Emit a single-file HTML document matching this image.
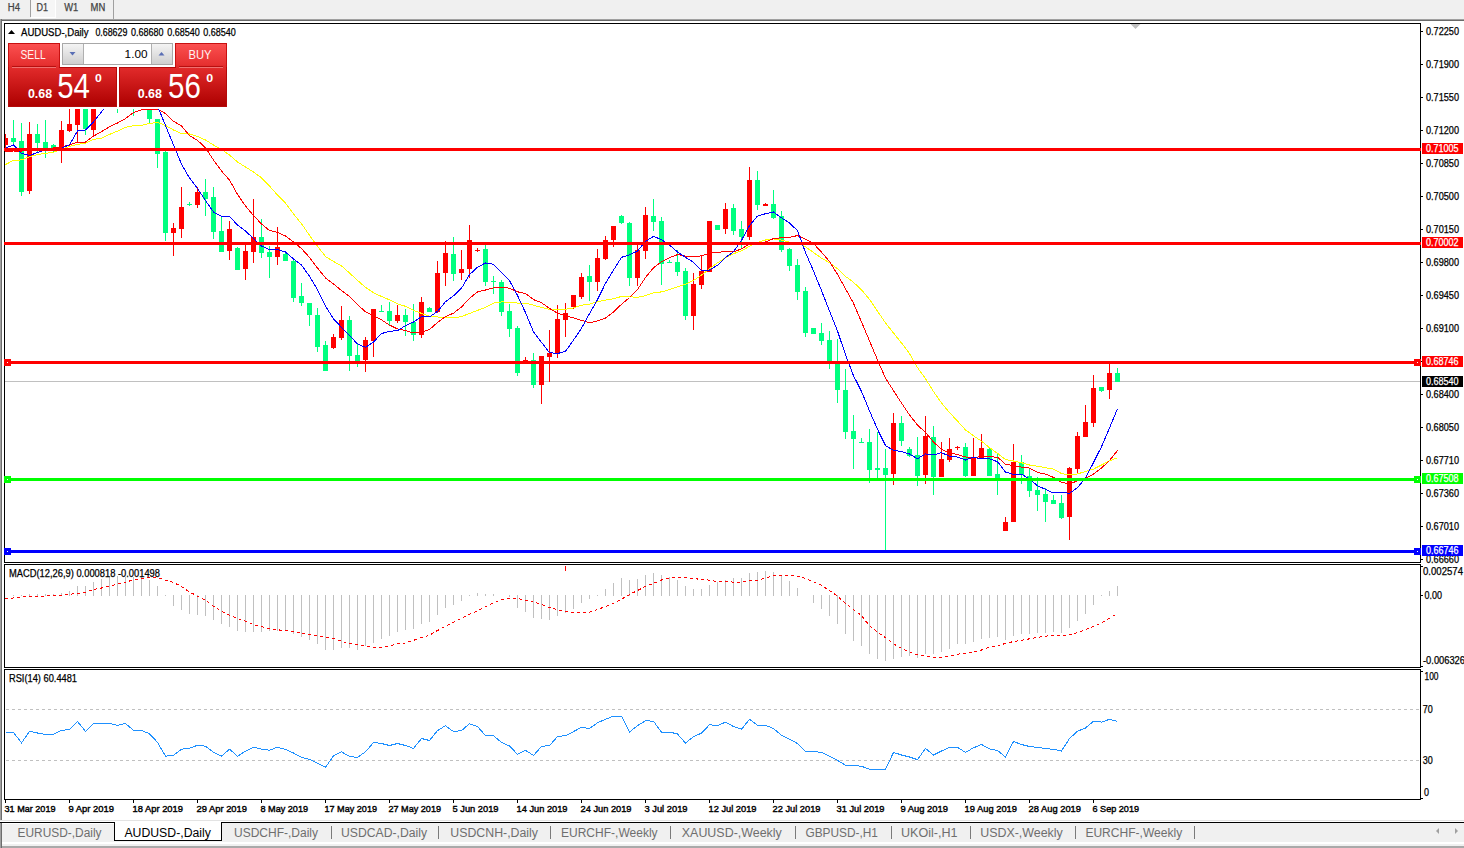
<!DOCTYPE html>
<html><head><meta charset="utf-8">
<style>
html,body{margin:0;padding:0;width:1464px;height:848px;overflow:hidden;background:#fff;}
svg{position:absolute;left:0;top:0;}
text{font-family:"Liberation Sans", sans-serif;}
</style></head><body>
<svg width="1464" height="848" viewBox="0 0 1464 848">
<rect x="0" y="0" width="1464" height="848" fill="#ffffff"/>
<g shape-rendering="crispEdges">
<rect x="0" y="0" width="1464" height="19" fill="#f0f0f0"/>
<rect x="31" y="0" width="24" height="17" fill="#f6f6f6"/><rect x="55" y="0" width="1" height="18" fill="#fff"/><rect x="31" y="17" width="25" height="1" fill="#fff"/>
<rect x="30" y="0" width="1" height="17" fill="#a0a0a0"/>
<rect x="113" y="0" width="1" height="19" fill="#a0a0a0"/>
<rect x="0" y="19" width="1464" height="1" fill="#a0a0a0"/>
<rect x="0" y="20" width="1464" height="1" fill="#696969"/>
<rect x="0" y="19" width="1" height="801" fill="#a0a0a0"/>
<rect x="1" y="19" width="1" height="801" fill="#6d6d6d"/>
<rect x="4" y="23" width="1417" height="1" fill="#000"/>
<rect x="4" y="23" width="1" height="540" fill="#000"/>
<rect x="1420" y="23" width="1" height="540" fill="#000"/>
<rect x="4" y="562" width="1417" height="1" fill="#000"/>
<rect x="4" y="564" width="1417" height="1" fill="#000"/>
<rect x="4" y="564" width="1" height="104" fill="#000"/>
<rect x="1420" y="564" width="1" height="104" fill="#000"/>
<rect x="4" y="667" width="1417" height="1" fill="#000"/>
<rect x="4" y="669" width="1417" height="1" fill="#000"/>
<rect x="4" y="669" width="1" height="131" fill="#000"/>
<rect x="1420" y="669" width="1" height="131" fill="#000"/>
<rect x="4" y="799" width="1417" height="1" fill="#000"/>
</g>
<g shape-rendering="crispEdges">
<rect x="5" y="381" width="1415" height="1" fill="#c0c0c0"/>
<rect x="5" y="134" width="1" height="18" fill="#ff0000"/>
<rect x="5" y="138" width="3" height="7" fill="#ff0000"/>
<rect x="13" y="120" width="1" height="26" fill="#00ff7f"/>
<rect x="11" y="138" width="5" height="4" fill="#00ff7f"/>
<rect x="21" y="123" width="1" height="73" fill="#00ff7f"/>
<rect x="19" y="141" width="5" height="51" fill="#00ff7f"/>
<rect x="29" y="122" width="1" height="72" fill="#ff0000"/>
<rect x="27" y="134" width="5" height="57" fill="#ff0000"/>
<rect x="37" y="124" width="1" height="28" fill="#00ff7f"/>
<rect x="35" y="134" width="5" height="9" fill="#00ff7f"/>
<rect x="45" y="120" width="1" height="38" fill="#00ff7f"/>
<rect x="43" y="142" width="5" height="8" fill="#00ff7f"/>
<rect x="53" y="144" width="1" height="8" fill="#00ff7f"/>
<rect x="51" y="145" width="5" height="6" fill="#00ff7f"/>
<rect x="61" y="121" width="1" height="42" fill="#ff0000"/>
<rect x="59" y="130" width="5" height="20" fill="#ff0000"/>
<rect x="69" y="100" width="1" height="32" fill="#ff0000"/>
<rect x="67" y="124" width="5" height="7" fill="#ff0000"/>
<rect x="77" y="100" width="1" height="42" fill="#ff0000"/>
<rect x="75" y="100" width="5" height="25" fill="#ff0000"/>
<rect x="85" y="100" width="1" height="35" fill="#00ff7f"/>
<rect x="83" y="100" width="5" height="29" fill="#00ff7f"/>
<rect x="93" y="100" width="1" height="36" fill="#ff0000"/>
<rect x="91" y="100" width="5" height="30" fill="#ff0000"/>
<rect x="101" y="70" width="1" height="30" fill="#00ff7f"/>
<rect x="99" y="75" width="5" height="20" fill="#00ff7f"/>
<rect x="109" y="62" width="1" height="38" fill="#ff0000"/>
<rect x="107" y="70" width="5" height="25" fill="#ff0000"/>
<rect x="117" y="60" width="1" height="53" fill="#00ff7f"/>
<rect x="115" y="65" width="5" height="35" fill="#00ff7f"/>
<rect x="125" y="55" width="1" height="45" fill="#ff0000"/>
<rect x="123" y="60" width="5" height="30" fill="#ff0000"/>
<rect x="133" y="60" width="1" height="56" fill="#00ff7f"/>
<rect x="131" y="65" width="5" height="35" fill="#00ff7f"/>
<rect x="141" y="60" width="1" height="40" fill="#ff0000"/>
<rect x="139" y="70" width="5" height="20" fill="#ff0000"/>
<rect x="149" y="80" width="1" height="43" fill="#00ff7f"/>
<rect x="147" y="90" width="5" height="29" fill="#00ff7f"/>
<rect x="157" y="119" width="1" height="49" fill="#00ff7f"/>
<rect x="155" y="119" width="5" height="35" fill="#00ff7f"/>
<rect x="165" y="151" width="1" height="90" fill="#00ff7f"/>
<rect x="163" y="152" width="5" height="81" fill="#00ff7f"/>
<rect x="173" y="223" width="1" height="33" fill="#ff0000"/>
<rect x="171" y="228" width="5" height="5" fill="#ff0000"/>
<rect x="181" y="187" width="1" height="51" fill="#ff0000"/>
<rect x="179" y="207" width="5" height="22" fill="#ff0000"/>
<rect x="189" y="202" width="1" height="4" fill="#00ff7f"/>
<rect x="187" y="204" width="5" height="1" fill="#00ff7f"/>
<rect x="197" y="187" width="1" height="21" fill="#ff0000"/>
<rect x="195" y="192" width="5" height="13" fill="#ff0000"/>
<rect x="205" y="179" width="1" height="37" fill="#00ff7f"/>
<rect x="203" y="192" width="5" height="7" fill="#00ff7f"/>
<rect x="213" y="187" width="1" height="52" fill="#00ff7f"/>
<rect x="211" y="197" width="5" height="35" fill="#00ff7f"/>
<rect x="221" y="217" width="1" height="35" fill="#00ff7f"/>
<rect x="219" y="231" width="5" height="21" fill="#00ff7f"/>
<rect x="229" y="221" width="1" height="39" fill="#ff0000"/>
<rect x="227" y="229" width="5" height="22" fill="#ff0000"/>
<rect x="237" y="247" width="1" height="23" fill="#00ff7f"/>
<rect x="235" y="248" width="5" height="22" fill="#00ff7f"/>
<rect x="245" y="245" width="1" height="35" fill="#ff0000"/>
<rect x="243" y="251" width="5" height="18" fill="#ff0000"/>
<rect x="253" y="199" width="1" height="64" fill="#ff0000"/>
<rect x="251" y="237" width="5" height="15" fill="#ff0000"/>
<rect x="261" y="219" width="1" height="39" fill="#00ff7f"/>
<rect x="259" y="237" width="5" height="16" fill="#00ff7f"/>
<rect x="269" y="246" width="1" height="32" fill="#00ff7f"/>
<rect x="267" y="252" width="5" height="5" fill="#00ff7f"/>
<rect x="277" y="227" width="1" height="38" fill="#ff0000"/>
<rect x="275" y="247" width="5" height="10" fill="#ff0000"/>
<rect x="285" y="253" width="1" height="8" fill="#00ff7f"/>
<rect x="283" y="254" width="5" height="7" fill="#00ff7f"/>
<rect x="293" y="260" width="1" height="42" fill="#00ff7f"/>
<rect x="291" y="261" width="5" height="37" fill="#00ff7f"/>
<rect x="301" y="283" width="1" height="23" fill="#00ff7f"/>
<rect x="299" y="296" width="5" height="7" fill="#00ff7f"/>
<rect x="309" y="303" width="1" height="23" fill="#00ff7f"/>
<rect x="307" y="303" width="5" height="12" fill="#00ff7f"/>
<rect x="317" y="308" width="1" height="44" fill="#00ff7f"/>
<rect x="315" y="315" width="5" height="32" fill="#00ff7f"/>
<rect x="325" y="341" width="1" height="30" fill="#00ff7f"/>
<rect x="323" y="345" width="5" height="26" fill="#00ff7f"/>
<rect x="333" y="334" width="1" height="15" fill="#ff0000"/>
<rect x="331" y="337" width="5" height="11" fill="#ff0000"/>
<rect x="341" y="306" width="1" height="34" fill="#ff0000"/>
<rect x="339" y="320" width="5" height="18" fill="#ff0000"/>
<rect x="349" y="316" width="1" height="55" fill="#00ff7f"/>
<rect x="347" y="320" width="5" height="36" fill="#00ff7f"/>
<rect x="357" y="343" width="1" height="24" fill="#00ff7f"/>
<rect x="355" y="355" width="5" height="6" fill="#00ff7f"/>
<rect x="365" y="337" width="1" height="35" fill="#ff0000"/>
<rect x="363" y="340" width="5" height="20" fill="#ff0000"/>
<rect x="373" y="309" width="1" height="48" fill="#ff0000"/>
<rect x="371" y="309" width="5" height="32" fill="#ff0000"/>
<rect x="381" y="305" width="1" height="7" fill="#00ff7f"/>
<rect x="379" y="311" width="5" height="1" fill="#00ff7f"/>
<rect x="389" y="302" width="1" height="24" fill="#00ff7f"/>
<rect x="387" y="311" width="5" height="10" fill="#00ff7f"/>
<rect x="397" y="305" width="1" height="18" fill="#ff0000"/>
<rect x="395" y="315" width="5" height="6" fill="#ff0000"/>
<rect x="405" y="309" width="1" height="27" fill="#00ff7f"/>
<rect x="403" y="315" width="5" height="7" fill="#00ff7f"/>
<rect x="413" y="304" width="1" height="37" fill="#00ff7f"/>
<rect x="411" y="322" width="5" height="13" fill="#00ff7f"/>
<rect x="421" y="297" width="1" height="41" fill="#ff0000"/>
<rect x="419" y="302" width="5" height="33" fill="#ff0000"/>
<rect x="429" y="307" width="1" height="5" fill="#00ff7f"/>
<rect x="427" y="308" width="5" height="4" fill="#00ff7f"/>
<rect x="437" y="261" width="1" height="52" fill="#ff0000"/>
<rect x="435" y="273" width="5" height="39" fill="#ff0000"/>
<rect x="445" y="241" width="1" height="45" fill="#ff0000"/>
<rect x="443" y="253" width="5" height="20" fill="#ff0000"/>
<rect x="453" y="237" width="1" height="44" fill="#00ff7f"/>
<rect x="451" y="254" width="5" height="20" fill="#00ff7f"/>
<rect x="461" y="250" width="1" height="30" fill="#ff0000"/>
<rect x="459" y="269" width="5" height="4" fill="#ff0000"/>
<rect x="469" y="225" width="1" height="53" fill="#ff0000"/>
<rect x="467" y="240" width="5" height="29" fill="#ff0000"/>
<rect x="477" y="248" width="1" height="4" fill="#ff0000"/>
<rect x="475" y="250" width="5" height="1" fill="#ff0000"/>
<rect x="485" y="245" width="1" height="41" fill="#00ff7f"/>
<rect x="483" y="249" width="5" height="33" fill="#00ff7f"/>
<rect x="493" y="276" width="1" height="18" fill="#00ff7f"/>
<rect x="491" y="281" width="5" height="1" fill="#00ff7f"/>
<rect x="501" y="280" width="1" height="36" fill="#00ff7f"/>
<rect x="499" y="282" width="5" height="30" fill="#00ff7f"/>
<rect x="509" y="304" width="1" height="33" fill="#00ff7f"/>
<rect x="507" y="311" width="5" height="18" fill="#00ff7f"/>
<rect x="517" y="326" width="1" height="50" fill="#00ff7f"/>
<rect x="515" y="328" width="5" height="45" fill="#00ff7f"/>
<rect x="525" y="357" width="1" height="4" fill="#ff0000"/>
<rect x="523" y="360" width="5" height="1" fill="#ff0000"/>
<rect x="533" y="353" width="1" height="35" fill="#00ff7f"/>
<rect x="531" y="360" width="5" height="25" fill="#00ff7f"/>
<rect x="541" y="356" width="1" height="48" fill="#ff0000"/>
<rect x="539" y="356" width="5" height="29" fill="#ff0000"/>
<rect x="549" y="330" width="1" height="52" fill="#ff0000"/>
<rect x="547" y="353" width="5" height="4" fill="#ff0000"/>
<rect x="557" y="305" width="1" height="53" fill="#ff0000"/>
<rect x="555" y="319" width="5" height="34" fill="#ff0000"/>
<rect x="565" y="303" width="1" height="34" fill="#ff0000"/>
<rect x="563" y="313" width="5" height="7" fill="#ff0000"/>
<rect x="573" y="295" width="1" height="14" fill="#ff0000"/>
<rect x="571" y="295" width="5" height="12" fill="#ff0000"/>
<rect x="581" y="273" width="1" height="26" fill="#ff0000"/>
<rect x="579" y="277" width="5" height="20" fill="#ff0000"/>
<rect x="589" y="265" width="1" height="36" fill="#00ff7f"/>
<rect x="587" y="276" width="5" height="6" fill="#00ff7f"/>
<rect x="597" y="249" width="1" height="42" fill="#ff0000"/>
<rect x="595" y="258" width="5" height="24" fill="#ff0000"/>
<rect x="605" y="236" width="1" height="24" fill="#ff0000"/>
<rect x="603" y="240" width="5" height="19" fill="#ff0000"/>
<rect x="613" y="226" width="1" height="21" fill="#ff0000"/>
<rect x="611" y="226" width="5" height="14" fill="#ff0000"/>
<rect x="621" y="215" width="1" height="9" fill="#00ff7f"/>
<rect x="619" y="216" width="5" height="7" fill="#00ff7f"/>
<rect x="629" y="222" width="1" height="64" fill="#00ff7f"/>
<rect x="627" y="223" width="5" height="55" fill="#00ff7f"/>
<rect x="637" y="245" width="1" height="41" fill="#ff0000"/>
<rect x="635" y="250" width="5" height="28" fill="#ff0000"/>
<rect x="645" y="207" width="1" height="52" fill="#ff0000"/>
<rect x="643" y="215" width="5" height="36" fill="#ff0000"/>
<rect x="653" y="199" width="1" height="32" fill="#00ff7f"/>
<rect x="651" y="216" width="5" height="6" fill="#00ff7f"/>
<rect x="661" y="217" width="1" height="68" fill="#00ff7f"/>
<rect x="659" y="221" width="5" height="43" fill="#00ff7f"/>
<rect x="669" y="260" width="1" height="3" fill="#00ff7f"/>
<rect x="667" y="262" width="5" height="1" fill="#00ff7f"/>
<rect x="677" y="250" width="1" height="26" fill="#00ff7f"/>
<rect x="675" y="262" width="5" height="10" fill="#00ff7f"/>
<rect x="685" y="268" width="1" height="52" fill="#00ff7f"/>
<rect x="683" y="271" width="5" height="45" fill="#00ff7f"/>
<rect x="693" y="273" width="1" height="57" fill="#ff0000"/>
<rect x="691" y="284" width="5" height="32" fill="#ff0000"/>
<rect x="701" y="256" width="1" height="33" fill="#ff0000"/>
<rect x="699" y="271" width="5" height="14" fill="#ff0000"/>
<rect x="709" y="221" width="1" height="51" fill="#ff0000"/>
<rect x="707" y="221" width="5" height="51" fill="#ff0000"/>
<rect x="717" y="225" width="1" height="5" fill="#00ff7f"/>
<rect x="715" y="225" width="5" height="5" fill="#00ff7f"/>
<rect x="725" y="203" width="1" height="31" fill="#ff0000"/>
<rect x="723" y="209" width="5" height="20" fill="#ff0000"/>
<rect x="733" y="204" width="1" height="31" fill="#00ff7f"/>
<rect x="731" y="208" width="5" height="23" fill="#00ff7f"/>
<rect x="741" y="221" width="1" height="27" fill="#00ff7f"/>
<rect x="739" y="229" width="5" height="8" fill="#00ff7f"/>
<rect x="749" y="167" width="1" height="73" fill="#ff0000"/>
<rect x="747" y="180" width="5" height="57" fill="#ff0000"/>
<rect x="757" y="171" width="1" height="39" fill="#00ff7f"/>
<rect x="755" y="180" width="5" height="25" fill="#00ff7f"/>
<rect x="765" y="203" width="1" height="3" fill="#ff0000"/>
<rect x="763" y="204" width="5" height="2" fill="#ff0000"/>
<rect x="773" y="190" width="1" height="29" fill="#00ff7f"/>
<rect x="771" y="204" width="5" height="14" fill="#00ff7f"/>
<rect x="781" y="211" width="1" height="41" fill="#00ff7f"/>
<rect x="779" y="216" width="5" height="34" fill="#00ff7f"/>
<rect x="789" y="248" width="1" height="23" fill="#00ff7f"/>
<rect x="787" y="249" width="5" height="17" fill="#00ff7f"/>
<rect x="797" y="259" width="1" height="41" fill="#00ff7f"/>
<rect x="795" y="265" width="5" height="27" fill="#00ff7f"/>
<rect x="805" y="287" width="1" height="50" fill="#00ff7f"/>
<rect x="803" y="291" width="5" height="42" fill="#00ff7f"/>
<rect x="813" y="328" width="1" height="6" fill="#00ff7f"/>
<rect x="811" y="328" width="5" height="6" fill="#00ff7f"/>
<rect x="821" y="323" width="1" height="22" fill="#00ff7f"/>
<rect x="819" y="333" width="5" height="8" fill="#00ff7f"/>
<rect x="829" y="331" width="1" height="38" fill="#00ff7f"/>
<rect x="827" y="340" width="5" height="21" fill="#00ff7f"/>
<rect x="837" y="339" width="1" height="64" fill="#00ff7f"/>
<rect x="835" y="363" width="5" height="27" fill="#00ff7f"/>
<rect x="845" y="369" width="1" height="70" fill="#00ff7f"/>
<rect x="843" y="390" width="5" height="42" fill="#00ff7f"/>
<rect x="853" y="415" width="1" height="54" fill="#00ff7f"/>
<rect x="851" y="431" width="5" height="8" fill="#00ff7f"/>
<rect x="861" y="438" width="1" height="5" fill="#00ff7f"/>
<rect x="859" y="442" width="5" height="1" fill="#00ff7f"/>
<rect x="869" y="429" width="1" height="54" fill="#00ff7f"/>
<rect x="867" y="442" width="5" height="28" fill="#00ff7f"/>
<rect x="877" y="432" width="1" height="46" fill="#00ff7f"/>
<rect x="875" y="468" width="5" height="2" fill="#00ff7f"/>
<rect x="885" y="449" width="1" height="101" fill="#00ff7f"/>
<rect x="883" y="468" width="5" height="7" fill="#00ff7f"/>
<rect x="893" y="413" width="1" height="72" fill="#ff0000"/>
<rect x="891" y="423" width="5" height="51" fill="#ff0000"/>
<rect x="901" y="416" width="1" height="30" fill="#00ff7f"/>
<rect x="899" y="423" width="5" height="18" fill="#00ff7f"/>
<rect x="909" y="447" width="1" height="10" fill="#00ff7f"/>
<rect x="907" y="449" width="5" height="7" fill="#00ff7f"/>
<rect x="917" y="437" width="1" height="49" fill="#00ff7f"/>
<rect x="915" y="455" width="5" height="21" fill="#00ff7f"/>
<rect x="925" y="416" width="1" height="68" fill="#ff0000"/>
<rect x="923" y="436" width="5" height="39" fill="#ff0000"/>
<rect x="933" y="426" width="1" height="69" fill="#00ff7f"/>
<rect x="931" y="437" width="5" height="40" fill="#00ff7f"/>
<rect x="941" y="442" width="1" height="35" fill="#ff0000"/>
<rect x="939" y="459" width="5" height="18" fill="#ff0000"/>
<rect x="949" y="438" width="1" height="24" fill="#ff0000"/>
<rect x="947" y="449" width="5" height="11" fill="#ff0000"/>
<rect x="957" y="446" width="1" height="4" fill="#ff0000"/>
<rect x="955" y="447" width="5" height="1" fill="#ff0000"/>
<rect x="965" y="443" width="1" height="34" fill="#00ff7f"/>
<rect x="963" y="447" width="5" height="29" fill="#00ff7f"/>
<rect x="973" y="438" width="1" height="38" fill="#ff0000"/>
<rect x="971" y="457" width="5" height="19" fill="#ff0000"/>
<rect x="981" y="434" width="1" height="24" fill="#ff0000"/>
<rect x="979" y="448" width="5" height="10" fill="#ff0000"/>
<rect x="989" y="448" width="1" height="28" fill="#00ff7f"/>
<rect x="987" y="449" width="5" height="27" fill="#00ff7f"/>
<rect x="997" y="454" width="1" height="41" fill="#00ff7f"/>
<rect x="995" y="474" width="5" height="5" fill="#00ff7f"/>
<rect x="1005" y="517" width="1" height="14" fill="#ff0000"/>
<rect x="1003" y="522" width="5" height="9" fill="#ff0000"/>
<rect x="1013" y="444" width="1" height="78" fill="#ff0000"/>
<rect x="1011" y="462" width="5" height="60" fill="#ff0000"/>
<rect x="1021" y="455" width="1" height="29" fill="#00ff7f"/>
<rect x="1019" y="462" width="5" height="13" fill="#00ff7f"/>
<rect x="1029" y="469" width="1" height="28" fill="#00ff7f"/>
<rect x="1027" y="476" width="5" height="15" fill="#00ff7f"/>
<rect x="1037" y="477" width="1" height="34" fill="#00ff7f"/>
<rect x="1035" y="490" width="5" height="5" fill="#00ff7f"/>
<rect x="1045" y="488" width="1" height="34" fill="#00ff7f"/>
<rect x="1043" y="494" width="5" height="8" fill="#00ff7f"/>
<rect x="1053" y="495" width="1" height="9" fill="#00ff7f"/>
<rect x="1051" y="500" width="5" height="4" fill="#00ff7f"/>
<rect x="1061" y="495" width="1" height="24" fill="#00ff7f"/>
<rect x="1059" y="503" width="5" height="15" fill="#00ff7f"/>
<rect x="1069" y="467" width="1" height="73" fill="#ff0000"/>
<rect x="1067" y="468" width="5" height="49" fill="#ff0000"/>
<rect x="1077" y="432" width="1" height="41" fill="#ff0000"/>
<rect x="1075" y="436" width="5" height="33" fill="#ff0000"/>
<rect x="1085" y="405" width="1" height="32" fill="#ff0000"/>
<rect x="1083" y="422" width="5" height="15" fill="#ff0000"/>
<rect x="1093" y="375" width="1" height="52" fill="#ff0000"/>
<rect x="1091" y="388" width="5" height="35" fill="#ff0000"/>
<rect x="1101" y="387" width="1" height="5" fill="#00ff7f"/>
<rect x="1099" y="387" width="5" height="4" fill="#00ff7f"/>
<rect x="1109" y="363" width="1" height="36" fill="#ff0000"/>
<rect x="1107" y="373" width="5" height="17" fill="#ff0000"/>
<rect x="1117" y="368" width="1" height="14" fill="#00ff7f"/>
<rect x="1115" y="373" width="5" height="9" fill="#00ff7f"/>
</g>
<g>
<polyline points="5.5,164.5 13.5,160.4 21.5,159.9 29.5,156.8 37.5,154.6 45.5,153.3 53.5,152.2 61.5,149.7 69.5,146.4 77.5,144.3 85.5,143.2 93.5,139.3 101.5,138.3 109.5,134.4 117.5,131.1 125.5,127.3 133.5,125.7 141.5,125.4 149.5,123.5 157.5,122.4 165.5,125.5 173.5,130.0 181.5,133.6 189.5,134.0 197.5,136.5 205.5,140.0 213.5,145.0 221.5,149.5 229.5,155.0 237.5,162.0 245.5,167.0 253.5,172.0 261.5,177.8 269.5,186.0 277.5,195.0 285.5,203.0 293.5,214.0 301.5,223.7 309.5,235.3 317.5,246.2 325.5,256.5 333.5,261.5 341.5,265.9 349.5,273.0 357.5,280.4 365.5,287.4 373.5,292.7 381.5,296.5 389.5,299.8 397.5,303.9 405.5,306.3 413.5,310.3 421.5,313.4 429.5,316.2 437.5,317.0 445.5,317.3 453.5,317.9 461.5,316.5 469.5,313.5 477.5,310.4 485.5,307.3 493.5,303.1 501.5,301.9 509.5,302.3 517.5,303.1 525.5,303.1 533.5,305.2 541.5,307.5 549.5,309.4 557.5,309.3 565.5,309.2 573.5,307.9 581.5,305.2 589.5,304.2 597.5,301.7 605.5,300.1 613.5,298.8 621.5,296.4 629.5,296.8 637.5,297.3 645.5,295.6 653.5,292.8 661.5,291.9 669.5,289.6 677.5,286.9 685.5,284.1 693.5,280.5 701.5,275.1 709.5,268.7 717.5,262.8 725.5,257.6 733.5,253.7 741.5,250.9 749.5,246.3 757.5,242.6 765.5,240.0 773.5,239.0 781.5,240.1 789.5,242.2 797.5,242.9 805.5,246.8 813.5,252.5 821.5,258.1 829.5,262.8 837.5,268.8 845.5,276.4 853.5,282.3 861.5,289.9 869.5,299.3 877.5,311.2 885.5,322.9 893.5,333.0 901.5,343.0 909.5,353.5 917.5,367.6 925.5,378.6 933.5,391.6 941.5,403.0 949.5,412.5 957.5,421.1 965.5,429.9 973.5,435.8 981.5,441.2 989.5,447.7 997.5,453.3 1005.5,459.6 1013.5,461.0 1021.5,462.7 1029.5,465.0 1037.5,466.2 1045.5,467.7 1053.5,469.1 1061.5,473.6 1069.5,474.9 1077.5,474.0 1085.5,471.4 1093.5,469.1 1101.5,465.0 1109.5,460.9 1117.5,457.7" fill="none" stroke="#ffff00" stroke-width="1" shape-rendering="crispEdges" />
<polyline points="5.5,152.0 13.5,151.0 21.5,151.0 29.5,150.0 37.5,150.0 45.5,149.0 53.5,148.0 61.5,147.0 69.5,145.0 77.5,142.1 85.5,142.1 93.5,136.1 101.5,131.7 109.5,126.8 117.5,123.0 125.5,118.6 133.5,112.6 141.5,109.8 149.5,109.3 157.5,109.0 165.5,113.5 173.5,121.3 181.5,126.0 189.5,135.6 197.5,140.4 205.5,147.8 213.5,160.0 221.5,171.0 229.5,180.0 237.5,194.5 245.5,206.0 253.5,215.5 261.5,224.0 269.5,230.5 277.5,232.3 285.5,236.0 293.5,242.0 301.5,248.6 309.5,257.4 317.5,268.0 325.5,277.9 333.5,284.0 341.5,290.5 349.5,296.6 357.5,304.5 365.5,311.9 373.5,315.9 381.5,319.8 389.5,325.1 397.5,328.9 405.5,330.6 413.5,332.9 421.5,332.0 429.5,329.5 437.5,322.5 445.5,316.5 453.5,313.2 461.5,307.0 469.5,298.3 477.5,291.9 485.5,290.0 493.5,287.8 501.5,287.2 509.5,288.2 517.5,291.8 525.5,293.6 533.5,299.6 541.5,302.7 549.5,308.4 557.5,313.1 565.5,315.9 573.5,317.8 581.5,320.4 589.5,322.7 597.5,321.0 605.5,318.0 613.5,311.9 621.5,304.3 629.5,297.5 637.5,289.6 645.5,277.5 653.5,267.9 661.5,261.6 669.5,257.6 677.5,254.6 685.5,256.1 693.5,256.6 701.5,255.9 709.5,253.2 717.5,252.5 725.5,251.3 733.5,251.9 741.5,248.9 749.5,243.9 757.5,243.2 765.5,241.9 773.5,238.6 781.5,237.7 789.5,237.3 797.5,235.6 805.5,239.1 813.5,243.6 821.5,252.1 829.5,261.5 837.5,274.4 845.5,288.8 853.5,303.2 861.5,322.0 869.5,340.9 877.5,359.9 885.5,378.3 893.5,390.6 901.5,403.1 909.5,414.9 917.5,425.1 925.5,432.4 933.5,442.1 941.5,449.1 949.5,453.3 957.5,454.4 965.5,457.0 973.5,458.0 981.5,456.4 989.5,456.9 997.5,457.1 1005.5,464.2 1013.5,465.7 1021.5,467.1 1029.5,468.1 1037.5,472.4 1045.5,474.1 1053.5,477.4 1061.5,482.3 1069.5,483.8 1077.5,480.9 1085.5,478.4 1093.5,474.1 1101.5,468.1 1109.5,460.5 1117.5,450.5" fill="none" stroke="#ff0000" stroke-width="1" shape-rendering="crispEdges" />
<polyline points="5.5,148.1 13.5,145.0 21.5,153.3 29.5,155.5 37.5,152.5 45.5,149.7 53.5,149.2 61.5,148.1 69.5,144.8 77.5,130.8 85.5,130.0 93.5,121.9 101.5,112.0 109.5,100.0 117.5,92.0 125.5,88.0 133.5,88.0 141.5,92.0 149.5,100.0 157.5,106.0 165.5,125.5 173.5,145.0 181.5,164.0 189.5,178.0 197.5,188.5 205.5,200.5 213.5,212.0 221.5,216.4 229.5,216.4 237.5,225.0 245.5,231.0 253.5,238.5 261.5,246.0 269.5,249.7 277.5,249.7 285.5,252.0 293.5,259.0 301.5,265.1 309.5,276.3 317.5,289.7 325.5,306.0 333.5,318.9 341.5,327.3 349.5,335.6 357.5,343.9 365.5,347.4 373.5,342.0 381.5,333.6 389.5,331.3 397.5,330.6 405.5,325.7 413.5,322.0 421.5,316.6 429.5,317.0 437.5,311.4 445.5,301.7 453.5,295.8 461.5,288.2 469.5,274.7 477.5,267.2 485.5,263.0 493.5,264.3 501.5,272.7 509.5,280.6 517.5,295.4 525.5,312.6 533.5,331.9 541.5,342.4 549.5,352.6 557.5,353.6 565.5,351.3 573.5,340.1 581.5,328.3 589.5,313.6 597.5,299.6 605.5,283.4 613.5,270.1 621.5,257.3 629.5,254.9 637.5,251.0 645.5,241.4 653.5,236.3 661.5,239.7 669.5,245.0 677.5,252.0 685.5,257.4 693.5,262.3 701.5,270.3 709.5,270.1 717.5,265.3 725.5,257.6 733.5,251.7 741.5,240.4 749.5,225.6 757.5,216.1 765.5,213.7 773.5,212.0 781.5,217.9 789.5,222.9 797.5,230.7 805.5,252.6 813.5,271.0 821.5,290.6 829.5,311.0 837.5,331.0 845.5,354.7 853.5,375.7 861.5,391.4 869.5,410.9 877.5,429.3 885.5,445.6 893.5,450.3 901.5,451.6 909.5,454.0 917.5,458.7 925.5,453.9 933.5,454.9 941.5,452.6 949.5,456.3 957.5,457.1 965.5,460.0 973.5,457.3 981.5,459.0 989.5,458.9 997.5,461.7 1005.5,472.1 1013.5,474.3 1021.5,474.1 1029.5,479.0 1037.5,485.7 1045.5,489.4 1053.5,493.0 1061.5,492.4 1069.5,493.3 1077.5,487.7 1085.5,477.9 1093.5,462.6 1101.5,446.7 1109.5,428.0 1117.5,408.6" fill="none" stroke="#0000ff" stroke-width="1" shape-rendering="crispEdges" />
</g>
<g shape-rendering="crispEdges">
<rect x="4" y="148" width="1417" height="3" fill="#ff0000"/>
<rect x="4" y="242" width="1417" height="3" fill="#ff0000"/>
<rect x="4" y="361" width="1417" height="3" fill="#ff0000"/>
<rect x="4" y="478" width="1417" height="3" fill="#00ff00"/>
<rect x="4" y="550" width="1417" height="3" fill="#0000ff"/>
</g>
<g shape-rendering="crispEdges">
<rect x="13" y="595" width="1" height="1" fill="#c0c0c0"/>
<rect x="21" y="595" width="1" height="1" fill="#c0c0c0"/>
<rect x="29" y="594" width="1" height="2" fill="#c0c0c0"/>
<rect x="37" y="594" width="1" height="2" fill="#c0c0c0"/>
<rect x="45" y="594" width="1" height="2" fill="#c0c0c0"/>
<rect x="53" y="594" width="1" height="2" fill="#c0c0c0"/>
<rect x="61" y="593" width="1" height="3" fill="#c0c0c0"/>
<rect x="69" y="591" width="1" height="5" fill="#c0c0c0"/>
<rect x="77" y="586" width="1" height="10" fill="#c0c0c0"/>
<rect x="85" y="586" width="1" height="10" fill="#c0c0c0"/>
<rect x="93" y="582" width="1" height="14" fill="#c0c0c0"/>
<rect x="101" y="579" width="1" height="17" fill="#c0c0c0"/>
<rect x="109" y="577" width="1" height="19" fill="#c0c0c0"/>
<rect x="117" y="576" width="1" height="20" fill="#c0c0c0"/>
<rect x="125" y="577" width="1" height="19" fill="#c0c0c0"/>
<rect x="133" y="577" width="1" height="19" fill="#c0c0c0"/>
<rect x="141" y="577" width="1" height="19" fill="#c0c0c0"/>
<rect x="149" y="580" width="1" height="16" fill="#c0c0c0"/>
<rect x="157" y="586" width="1" height="10" fill="#c0c0c0"/>
<rect x="165" y="595" width="1" height="1" fill="#c0c0c0"/>
<rect x="173" y="595" width="1" height="11" fill="#c0c0c0"/>
<rect x="181" y="595" width="1" height="15" fill="#c0c0c0"/>
<rect x="189" y="595" width="1" height="19" fill="#c0c0c0"/>
<rect x="197" y="595" width="1" height="20" fill="#c0c0c0"/>
<rect x="205" y="595" width="1" height="21" fill="#c0c0c0"/>
<rect x="213" y="595" width="1" height="25" fill="#c0c0c0"/>
<rect x="221" y="595" width="1" height="29" fill="#c0c0c0"/>
<rect x="229" y="595" width="1" height="32" fill="#c0c0c0"/>
<rect x="237" y="595" width="1" height="36" fill="#c0c0c0"/>
<rect x="245" y="595" width="1" height="37" fill="#c0c0c0"/>
<rect x="253" y="595" width="1" height="37" fill="#c0c0c0"/>
<rect x="261" y="595" width="1" height="37" fill="#c0c0c0"/>
<rect x="269" y="595" width="1" height="36" fill="#c0c0c0"/>
<rect x="277" y="595" width="1" height="36" fill="#c0c0c0"/>
<rect x="285" y="595" width="1" height="36" fill="#c0c0c0"/>
<rect x="293" y="595" width="1" height="39" fill="#c0c0c0"/>
<rect x="301" y="595" width="1" height="42" fill="#c0c0c0"/>
<rect x="309" y="595" width="1" height="45" fill="#c0c0c0"/>
<rect x="317" y="595" width="1" height="49" fill="#c0c0c0"/>
<rect x="325" y="595" width="1" height="55" fill="#c0c0c0"/>
<rect x="333" y="595" width="1" height="55" fill="#c0c0c0"/>
<rect x="341" y="595" width="1" height="53" fill="#c0c0c0"/>
<rect x="349" y="595" width="1" height="53" fill="#c0c0c0"/>
<rect x="357" y="595" width="1" height="55" fill="#c0c0c0"/>
<rect x="365" y="595" width="1" height="51" fill="#c0c0c0"/>
<rect x="373" y="595" width="1" height="48" fill="#c0c0c0"/>
<rect x="381" y="595" width="1" height="44" fill="#c0c0c0"/>
<rect x="389" y="595" width="1" height="41" fill="#c0c0c0"/>
<rect x="397" y="595" width="1" height="37" fill="#c0c0c0"/>
<rect x="405" y="595" width="1" height="35" fill="#c0c0c0"/>
<rect x="413" y="595" width="1" height="34" fill="#c0c0c0"/>
<rect x="421" y="595" width="1" height="29" fill="#c0c0c0"/>
<rect x="429" y="595" width="1" height="27" fill="#c0c0c0"/>
<rect x="437" y="595" width="1" height="20" fill="#c0c0c0"/>
<rect x="445" y="595" width="1" height="13" fill="#c0c0c0"/>
<rect x="453" y="595" width="1" height="10" fill="#c0c0c0"/>
<rect x="461" y="595" width="1" height="6" fill="#c0c0c0"/>
<rect x="469" y="595" width="1" height="1" fill="#c0c0c0"/>
<rect x="477" y="593" width="1" height="3" fill="#c0c0c0"/>
<rect x="485" y="594" width="1" height="2" fill="#c0c0c0"/>
<rect x="493" y="594" width="1" height="2" fill="#c0c0c0"/>
<rect x="509" y="595" width="1" height="2" fill="#c0c0c0"/>
<rect x="517" y="595" width="1" height="13" fill="#c0c0c0"/>
<rect x="525" y="595" width="1" height="17" fill="#c0c0c0"/>
<rect x="533" y="595" width="1" height="23" fill="#c0c0c0"/>
<rect x="541" y="595" width="1" height="24" fill="#c0c0c0"/>
<rect x="549" y="595" width="1" height="25" fill="#c0c0c0"/>
<rect x="557" y="595" width="1" height="21" fill="#c0c0c0"/>
<rect x="565" y="595" width="1" height="18" fill="#c0c0c0"/>
<rect x="573" y="595" width="1" height="14" fill="#c0c0c0"/>
<rect x="581" y="595" width="1" height="8" fill="#c0c0c0"/>
<rect x="589" y="595" width="1" height="4" fill="#c0c0c0"/>
<rect x="597" y="595" width="1" height="1" fill="#c0c0c0"/>
<rect x="605" y="589" width="1" height="7" fill="#c0c0c0"/>
<rect x="613" y="583" width="1" height="13" fill="#c0c0c0"/>
<rect x="621" y="578" width="1" height="18" fill="#c0c0c0"/>
<rect x="629" y="580" width="1" height="16" fill="#c0c0c0"/>
<rect x="637" y="579" width="1" height="17" fill="#c0c0c0"/>
<rect x="645" y="575" width="1" height="21" fill="#c0c0c0"/>
<rect x="653" y="573" width="1" height="23" fill="#c0c0c0"/>
<rect x="661" y="575" width="1" height="21" fill="#c0c0c0"/>
<rect x="669" y="577" width="1" height="19" fill="#c0c0c0"/>
<rect x="677" y="580" width="1" height="16" fill="#c0c0c0"/>
<rect x="685" y="586" width="1" height="10" fill="#c0c0c0"/>
<rect x="693" y="589" width="1" height="7" fill="#c0c0c0"/>
<rect x="701" y="589" width="1" height="7" fill="#c0c0c0"/>
<rect x="709" y="585" width="1" height="11" fill="#c0c0c0"/>
<rect x="717" y="582" width="1" height="14" fill="#c0c0c0"/>
<rect x="725" y="580" width="1" height="16" fill="#c0c0c0"/>
<rect x="733" y="578" width="1" height="18" fill="#c0c0c0"/>
<rect x="741" y="578" width="1" height="18" fill="#c0c0c0"/>
<rect x="749" y="573" width="1" height="23" fill="#c0c0c0"/>
<rect x="757" y="572" width="1" height="24" fill="#c0c0c0"/>
<rect x="765" y="571" width="1" height="25" fill="#c0c0c0"/>
<rect x="773" y="572" width="1" height="24" fill="#c0c0c0"/>
<rect x="781" y="575" width="1" height="21" fill="#c0c0c0"/>
<rect x="789" y="581" width="1" height="15" fill="#c0c0c0"/>
<rect x="797" y="588" width="1" height="8" fill="#c0c0c0"/>
<rect x="813" y="595" width="1" height="8" fill="#c0c0c0"/>
<rect x="821" y="595" width="1" height="14" fill="#c0c0c0"/>
<rect x="829" y="595" width="1" height="21" fill="#c0c0c0"/>
<rect x="837" y="595" width="1" height="29" fill="#c0c0c0"/>
<rect x="845" y="595" width="1" height="39" fill="#c0c0c0"/>
<rect x="853" y="595" width="1" height="46" fill="#c0c0c0"/>
<rect x="861" y="595" width="1" height="51" fill="#c0c0c0"/>
<rect x="869" y="595" width="1" height="59" fill="#c0c0c0"/>
<rect x="877" y="595" width="1" height="64" fill="#c0c0c0"/>
<rect x="885" y="595" width="1" height="66" fill="#c0c0c0"/>
<rect x="893" y="595" width="1" height="64" fill="#c0c0c0"/>
<rect x="901" y="595" width="1" height="62" fill="#c0c0c0"/>
<rect x="909" y="595" width="1" height="61" fill="#c0c0c0"/>
<rect x="917" y="595" width="1" height="63" fill="#c0c0c0"/>
<rect x="925" y="595" width="1" height="59" fill="#c0c0c0"/>
<rect x="933" y="595" width="1" height="59" fill="#c0c0c0"/>
<rect x="941" y="595" width="1" height="57" fill="#c0c0c0"/>
<rect x="949" y="595" width="1" height="54" fill="#c0c0c0"/>
<rect x="957" y="595" width="1" height="49" fill="#c0c0c0"/>
<rect x="965" y="595" width="1" height="49" fill="#c0c0c0"/>
<rect x="973" y="595" width="1" height="47" fill="#c0c0c0"/>
<rect x="981" y="595" width="1" height="44" fill="#c0c0c0"/>
<rect x="989" y="595" width="1" height="43" fill="#c0c0c0"/>
<rect x="997" y="595" width="1" height="42" fill="#c0c0c0"/>
<rect x="1005" y="595" width="1" height="45" fill="#c0c0c0"/>
<rect x="1013" y="595" width="1" height="41" fill="#c0c0c0"/>
<rect x="1021" y="595" width="1" height="39" fill="#c0c0c0"/>
<rect x="1029" y="595" width="1" height="39" fill="#c0c0c0"/>
<rect x="1037" y="595" width="1" height="38" fill="#c0c0c0"/>
<rect x="1045" y="595" width="1" height="38" fill="#c0c0c0"/>
<rect x="1053" y="595" width="1" height="37" fill="#c0c0c0"/>
<rect x="1061" y="595" width="1" height="38" fill="#c0c0c0"/>
<rect x="1069" y="595" width="1" height="33" fill="#c0c0c0"/>
<rect x="1077" y="595" width="1" height="26" fill="#c0c0c0"/>
<rect x="1085" y="595" width="1" height="19" fill="#c0c0c0"/>
<rect x="1093" y="595" width="1" height="10" fill="#c0c0c0"/>
<rect x="1101" y="595" width="1" height="1" fill="#c0c0c0"/>
<rect x="1109" y="591" width="1" height="5" fill="#c0c0c0"/>
<rect x="1117" y="586" width="1" height="10" fill="#c0c0c0"/>
</g>
<polyline points="5.1,598.0 13.1,598.0 21.1,597.2 29.1,596.4 37.1,596.2 45.1,596.0 53.1,595.8 61.1,595.5 69.1,594.3 77.1,593.5 85.1,592.3 93.1,589.6 101.1,588.1 109.1,586.2 117.1,584.1 125.1,582.2 133.1,580.0 141.1,578.3 149.1,577.9 157.1,577.5 165.1,580.0 173.1,582.3 181.1,586.2 189.1,591.8 197.1,595.9 205.1,600.0 213.1,606.1 221.1,611.2 229.1,614.9 237.1,618.4 245.1,621.1 253.1,624.5 261.1,626.6 269.1,628.6 277.1,629.7 285.1,630.7 293.1,631.5 301.1,633.4 309.1,634.2 317.1,635.4 325.1,637.5 333.1,638.5 341.1,641.0 349.1,643.6 357.1,644.6 365.1,646.1 373.1,647.1 381.1,647.1 389.1,646.1 397.1,644.0 405.1,643.0 413.1,640.5 421.1,637.5 429.1,635.4 437.1,630.7 445.1,626.6 453.1,622.5 461.1,618.4 469.1,614.3 477.1,611.2 485.1,607.1 493.1,603.0 501.1,600.0 509.1,598.5 517.1,598.5 525.1,600.0 533.1,602.0 541.1,604.1 549.1,607.5 557.1,609.6 565.1,611.6 573.1,612.9 581.1,613.0 589.1,612.3 597.1,609.6 605.1,606.7 613.1,603.4 621.1,599.3 629.1,594.8 637.1,590.7 645.1,586.6 653.1,583.6 661.1,580.1 669.1,578.4 677.1,577.4 685.1,577.4 693.1,578.4 701.1,579.5 709.1,580.1 717.1,581.5 725.1,581.5 733.1,582.1 741.1,582.1 749.1,580.9 757.1,580.5 765.1,578.0 773.1,576.0 781.1,575.4 789.1,575.4 797.1,576.0 805.1,578.4 813.1,581.5 821.1,585.0 829.1,590.3 837.1,595.9 845.1,603.0 853.1,609.2 861.1,615.3 869.1,625.2 877.1,631.7 885.1,637.5 893.1,643.6 901.1,648.1 909.1,651.8 917.1,654.7 925.1,655.9 933.1,657.3 941.1,657.3 949.1,656.3 957.1,654.3 965.1,653.2 973.1,651.8 981.1,650.2 989.1,647.1 997.1,645.7 1005.1,643.6 1013.1,641.6 1021.1,640.3 1029.1,638.9 1037.1,637.5 1045.1,636.2 1053.1,635.4 1061.1,635.4 1069.1,634.8 1077.1,632.7 1085.1,629.7 1093.1,626.6 1101.1,623.1 1109.1,618.4 1117.1,613.7" fill="none" stroke="#ff0000" stroke-width="1" shape-rendering="crispEdges" stroke-dasharray="3,3"/>
<g shape-rendering="crispEdges">
<line x1="6" y1="709.5" x2="1420" y2="709.5" stroke="#c0c0c0" stroke-width="1" stroke-dasharray="3,3"/>
<line x1="6" y1="760.5" x2="1420" y2="760.5" stroke="#c0c0c0" stroke-width="1" stroke-dasharray="3,3"/>
</g>
<polyline points="5.5,732.4 13.5,732.4 21.5,742.9 29.5,731.4 37.5,733.0 45.5,734.4 53.5,734.4 61.5,730.4 69.5,729.4 77.5,721.5 85.5,731.4 93.5,723.5 101.5,723.5 109.5,723.5 117.5,725.4 125.5,723.5 133.5,730.4 141.5,730.4 149.5,733.8 157.5,742.3 165.5,756.2 173.5,755.2 181.5,749.2 189.5,748.2 197.5,745.3 205.5,746.2 213.5,752.2 221.5,756.2 229.5,749.2 237.5,756.2 245.5,751.2 253.5,747.2 261.5,749.2 269.5,750.2 277.5,747.2 285.5,749.5 293.5,753.0 301.5,757.4 309.5,759.3 317.5,763.3 325.5,767.3 333.5,755.8 341.5,751.8 349.5,756.4 357.5,757.4 365.5,751.8 373.5,742.5 381.5,743.5 389.5,745.5 397.5,743.5 405.5,745.5 413.5,748.4 421.5,738.5 429.5,740.5 437.5,730.6 445.5,725.7 453.5,731.6 461.5,730.6 469.5,723.7 477.5,726.6 485.5,735.6 493.5,735.6 501.5,742.5 509.5,745.9 517.5,754.4 525.5,750.4 533.5,755.4 541.5,746.5 549.5,745.5 557.5,736.6 565.5,735.6 573.5,731.6 581.5,727.2 589.5,728.6 597.5,722.7 605.5,719.3 613.5,716.1 621.5,716.1 629.5,732.0 637.5,725.7 645.5,720.7 653.5,721.3 661.5,732.0 669.5,732.0 677.5,734.0 685.5,743.1 693.5,736.6 701.5,733.2 709.5,724.7 717.5,725.7 725.5,722.1 733.5,726.6 741.5,729.2 749.5,719.3 757.5,725.3 765.5,725.3 773.5,728.6 781.5,735.2 789.5,739.1 797.5,743.5 805.5,751.4 813.5,751.4 821.5,752.4 829.5,756.4 837.5,760.3 845.5,765.3 853.5,765.3 861.5,766.3 869.5,769.2 877.5,769.2 885.5,769.2 893.5,752.4 901.5,755.0 909.5,757.0 917.5,759.7 925.5,748.4 933.5,755.0 941.5,751.0 949.5,747.4 957.5,747.4 965.5,752.4 973.5,747.8 981.5,744.5 989.5,749.0 997.5,750.4 1005.5,757.0 1013.5,741.5 1021.5,744.5 1029.5,746.5 1037.5,747.4 1045.5,748.4 1053.5,749.4 1061.5,751.0 1069.5,738.5 1077.5,731.2 1085.5,728.0 1093.5,721.3 1101.5,722.1 1109.5,719.3 1117.5,721.3" fill="none" stroke="#1e90ff" stroke-width="1" shape-rendering="crispEdges" />
<text x="7.8" y="11" font-size="10" font-weight="normal" fill="#444" text-anchor="start" textLength="12.2" lengthAdjust="spacingAndGlyphs" stroke="#444" stroke-width="0.25" >H4</text>
<text x="36.5" y="11" font-size="10" font-weight="normal" fill="#444" text-anchor="start" textLength="11.5" lengthAdjust="spacingAndGlyphs" stroke="#444" stroke-width="0.25" >D1</text>
<text x="64.3" y="11" font-size="10" font-weight="normal" fill="#444" text-anchor="start" textLength="14" lengthAdjust="spacingAndGlyphs" stroke="#444" stroke-width="0.25" >W1</text>
<text x="90.6" y="11" font-size="10" font-weight="normal" fill="#444" text-anchor="start" textLength="14.7" lengthAdjust="spacingAndGlyphs" stroke="#444" stroke-width="0.25" >MN</text>
<polygon points="8,34 15,34 11.5,30" fill="#000"/>
<text x="21" y="35.7" font-size="10" font-weight="normal" fill="#000" text-anchor="start" textLength="67.5" lengthAdjust="spacingAndGlyphs" stroke="#000" stroke-width="0.25" >AUDUSD-,Daily</text>
<text x="95.4" y="35.7" font-size="10" font-weight="normal" fill="#000" text-anchor="start" textLength="32" lengthAdjust="spacingAndGlyphs" stroke="#000" stroke-width="0.25" >0.68629</text>
<text x="131" y="35.7" font-size="10" font-weight="normal" fill="#000" text-anchor="start" textLength="32.5" lengthAdjust="spacingAndGlyphs" stroke="#000" stroke-width="0.25" >0.68680</text>
<text x="167.2" y="35.7" font-size="10" font-weight="normal" fill="#000" text-anchor="start" textLength="32.5" lengthAdjust="spacingAndGlyphs" stroke="#000" stroke-width="0.25" >0.68540</text>
<text x="203.3" y="35.7" font-size="10" font-weight="normal" fill="#000" text-anchor="start" textLength="32.5" lengthAdjust="spacingAndGlyphs" stroke="#000" stroke-width="0.25" >0.68540</text>
<defs><linearGradient id="gTop" x1="0" y1="0" x2="0" y2="1"><stop offset="0" stop-color="#fb5050"/><stop offset="1" stop-color="#e32b2b"/></linearGradient><linearGradient id="gBot" x1="0" y1="0" x2="0" y2="1"><stop offset="0" stop-color="#e12a2a"/><stop offset="1" stop-color="#ad0000"/></linearGradient><linearGradient id="gMid" x1="0" y1="0" x2="0" y2="1"><stop offset="0" stop-color="#e22d2d"/><stop offset="1" stop-color="#e12a2a"/></linearGradient><linearGradient id="gBtn" x1="0" y1="0" x2="0" y2="1"><stop offset="0" stop-color="#f4f4f4"/><stop offset="1" stop-color="#cfcfcf"/></linearGradient></defs>
<g shape-rendering="crispEdges">
<rect x="7" y="42" width="222" height="67" fill="#fff"/>
<rect x="8" y="43" width="52" height="25" fill="#c81010"/>
<rect x="9" y="44" width="50" height="24" fill="url(#gTop)"/>
<rect x="175" y="43" width="52" height="25" fill="#c81010"/>
<rect x="176" y="44" width="50" height="24" fill="url(#gTop)"/>
<rect x="8" y="67" width="109" height="40" fill="#b40a0a"/>
<rect x="9" y="68" width="107" height="38" fill="url(#gBot)"/>
<rect x="9" y="65" width="50" height="4" fill="url(#gMid)"/>
<rect x="119" y="67" width="108" height="40" fill="#b40a0a"/>
<rect x="120" y="68" width="106" height="38" fill="url(#gBot)"/>
<rect x="176" y="65" width="50" height="4" fill="url(#gMid)"/>
<rect x="12" y="66" width="44" height="1" fill="#b80f0f"/>
<rect x="12" y="67" width="44" height="1" fill="#f07070"/>
<rect x="179" y="66" width="44" height="1" fill="#b80f0f"/>
<rect x="179" y="67" width="44" height="1" fill="#f07070"/>
<rect x="62" y="43" width="111" height="22" fill="#a8a8a8"/>
<rect x="63" y="44" width="109" height="20" fill="#fff"/>
<rect x="63" y="44" width="20" height="20" fill="url(#gBtn)"/>
<rect x="83" y="44" width="1" height="20" fill="#b0b0b0"/>
<rect x="151" y="44" width="1" height="20" fill="#b0b0b0"/>
<rect x="152" y="44" width="20" height="20" fill="url(#gBtn)"/>
</g>
<polygon points="69.5,52 75.5,52 72.5,55.5" fill="#5a6fb5"/>
<polygon points="158.5,55.5 164.5,55.5 161.5,52" fill="#5a6fb5"/>
<text x="124.6" y="57.8" font-size="11" font-weight="normal" fill="#000" text-anchor="start" textLength="22.9" lengthAdjust="spacingAndGlyphs" >1.00</text>
<text x="20.5" y="58.7" font-size="12" font-weight="normal" fill="#fff2f2" text-anchor="start" textLength="25.1" lengthAdjust="spacingAndGlyphs" >SELL</text>
<text x="188.5" y="58.7" font-size="12" font-weight="normal" fill="#fff2f2" text-anchor="start" textLength="23" lengthAdjust="spacingAndGlyphs" >BUY</text>
<text x="27.9" y="97.5" font-size="12" font-weight="bold" fill="#fff" text-anchor="start" textLength="24.2" lengthAdjust="spacingAndGlyphs" >0.68</text>
<text x="57.2" y="97.5" font-size="34.5" font-weight="normal" fill="#fff" text-anchor="start" textLength="32.7" lengthAdjust="spacingAndGlyphs" >54</text>
<text x="95" y="81.8" font-size="11" font-weight="bold" fill="#fff" text-anchor="start" textLength="6.8" lengthAdjust="spacingAndGlyphs" >0</text>
<text x="137.7" y="97.5" font-size="12" font-weight="bold" fill="#fff" text-anchor="start" textLength="24.3" lengthAdjust="spacingAndGlyphs" >0.68</text>
<text x="168" y="97.5" font-size="34.5" font-weight="normal" fill="#fff" text-anchor="start" textLength="32.8" lengthAdjust="spacingAndGlyphs" >56</text>
<text x="206.2" y="81.8" font-size="11" font-weight="bold" fill="#fff" text-anchor="start" textLength="6.9" lengthAdjust="spacingAndGlyphs" >0</text>
<rect x="565" y="566" width="1" height="5" fill="#ff0000" shape-rendering="crispEdges"/>
<polygon points="1130.5,24 1140.5,24 1135.5,29" fill="#c0c0c0"/>
<g shape-rendering="crispEdges">
<rect x="1421" y="31" width="2" height="1" fill="#000"/>
<rect x="1421" y="64" width="2" height="1" fill="#000"/>
<rect x="1421" y="97" width="2" height="1" fill="#000"/>
<rect x="1421" y="130" width="2" height="1" fill="#000"/>
<rect x="1421" y="163" width="2" height="1" fill="#000"/>
<rect x="1421" y="196" width="2" height="1" fill="#000"/>
<rect x="1421" y="229" width="2" height="1" fill="#000"/>
<rect x="1421" y="262" width="2" height="1" fill="#000"/>
<rect x="1421" y="295" width="2" height="1" fill="#000"/>
<rect x="1421" y="328" width="2" height="1" fill="#000"/>
<rect x="1421" y="361" width="2" height="1" fill="#000"/>
<rect x="1421" y="394" width="2" height="1" fill="#000"/>
<rect x="1421" y="427" width="2" height="1" fill="#000"/>
<rect x="1421" y="460" width="2" height="1" fill="#000"/>
<rect x="1421" y="493" width="2" height="1" fill="#000"/>
<rect x="1421" y="526" width="2" height="1" fill="#000"/>
<rect x="1421" y="559" width="2" height="1" fill="#000"/>
</g>
<text x="1426" y="35" font-size="10" font-weight="normal" fill="#000" text-anchor="start" textLength="33" lengthAdjust="spacingAndGlyphs" stroke="#000" stroke-width="0.25" >0.72250</text>
<text x="1426" y="68" font-size="10" font-weight="normal" fill="#000" text-anchor="start" textLength="33" lengthAdjust="spacingAndGlyphs" stroke="#000" stroke-width="0.25" >0.71900</text>
<text x="1426" y="101" font-size="10" font-weight="normal" fill="#000" text-anchor="start" textLength="33" lengthAdjust="spacingAndGlyphs" stroke="#000" stroke-width="0.25" >0.71550</text>
<text x="1426" y="134" font-size="10" font-weight="normal" fill="#000" text-anchor="start" textLength="33" lengthAdjust="spacingAndGlyphs" stroke="#000" stroke-width="0.25" >0.71200</text>
<text x="1426" y="167" font-size="10" font-weight="normal" fill="#000" text-anchor="start" textLength="33" lengthAdjust="spacingAndGlyphs" stroke="#000" stroke-width="0.25" >0.70850</text>
<text x="1426" y="200" font-size="10" font-weight="normal" fill="#000" text-anchor="start" textLength="33" lengthAdjust="spacingAndGlyphs" stroke="#000" stroke-width="0.25" >0.70500</text>
<text x="1426" y="233" font-size="10" font-weight="normal" fill="#000" text-anchor="start" textLength="33" lengthAdjust="spacingAndGlyphs" stroke="#000" stroke-width="0.25" >0.70150</text>
<text x="1426" y="266" font-size="10" font-weight="normal" fill="#000" text-anchor="start" textLength="33" lengthAdjust="spacingAndGlyphs" stroke="#000" stroke-width="0.25" >0.69800</text>
<text x="1426" y="299" font-size="10" font-weight="normal" fill="#000" text-anchor="start" textLength="33" lengthAdjust="spacingAndGlyphs" stroke="#000" stroke-width="0.25" >0.69450</text>
<text x="1426" y="332" font-size="10" font-weight="normal" fill="#000" text-anchor="start" textLength="33" lengthAdjust="spacingAndGlyphs" stroke="#000" stroke-width="0.25" >0.69100</text>
<text x="1426" y="398" font-size="10" font-weight="normal" fill="#000" text-anchor="start" textLength="33" lengthAdjust="spacingAndGlyphs" stroke="#000" stroke-width="0.25" >0.68400</text>
<text x="1426" y="431" font-size="10" font-weight="normal" fill="#000" text-anchor="start" textLength="33" lengthAdjust="spacingAndGlyphs" stroke="#000" stroke-width="0.25" >0.68050</text>
<text x="1426" y="464" font-size="10" font-weight="normal" fill="#000" text-anchor="start" textLength="33" lengthAdjust="spacingAndGlyphs" stroke="#000" stroke-width="0.25" >0.67710</text>
<text x="1426" y="497" font-size="10" font-weight="normal" fill="#000" text-anchor="start" textLength="33" lengthAdjust="spacingAndGlyphs" stroke="#000" stroke-width="0.25" >0.67360</text>
<text x="1426" y="530" font-size="10" font-weight="normal" fill="#000" text-anchor="start" textLength="33" lengthAdjust="spacingAndGlyphs" stroke="#000" stroke-width="0.25" >0.67010</text>
<text x="1426" y="563" font-size="10" font-weight="normal" fill="#000" text-anchor="start" textLength="33" lengthAdjust="spacingAndGlyphs" stroke="#000" stroke-width="0.25" >0.66660</text>
<rect x="1422" y="143" width="41" height="11" fill="#ff0000" shape-rendering="crispEdges"/>
<text x="1426" y="152" font-size="10" font-weight="normal" fill="#fff" text-anchor="start" textLength="32.5" lengthAdjust="spacingAndGlyphs" stroke="#fff" stroke-width="0.25" >0.71005</text>
<rect x="1422" y="237" width="41" height="11" fill="#ff0000" shape-rendering="crispEdges"/>
<text x="1426" y="246" font-size="10" font-weight="normal" fill="#fff" text-anchor="start" textLength="32.5" lengthAdjust="spacingAndGlyphs" stroke="#fff" stroke-width="0.25" >0.70002</text>
<rect x="1422" y="356" width="41" height="11" fill="#ff0000" shape-rendering="crispEdges"/>
<rect x="4" y="359" width="7" height="7" fill="#ff0000" shape-rendering="crispEdges"/>
<rect x="7" y="362" width="1" height="1" fill="#fff" shape-rendering="crispEdges"/>
<rect x="1414" y="359" width="7" height="7" fill="#ff0000" shape-rendering="crispEdges"/>
<rect x="1417" y="362" width="1" height="1" fill="#fff" shape-rendering="crispEdges"/>
<text x="1426" y="365" font-size="10" font-weight="normal" fill="#fff" text-anchor="start" textLength="32.5" lengthAdjust="spacingAndGlyphs" stroke="#fff" stroke-width="0.25" >0.68746</text>
<rect x="1422" y="473" width="41" height="11" fill="#00ff00" shape-rendering="crispEdges"/>
<rect x="4" y="476" width="7" height="7" fill="#00ff00" shape-rendering="crispEdges"/>
<rect x="7" y="479" width="1" height="1" fill="#fff" shape-rendering="crispEdges"/>
<rect x="1414" y="476" width="7" height="7" fill="#00ff00" shape-rendering="crispEdges"/>
<rect x="1417" y="479" width="1" height="1" fill="#fff" shape-rendering="crispEdges"/>
<text x="1426" y="482" font-size="10" font-weight="normal" fill="#fff" text-anchor="start" textLength="32.5" lengthAdjust="spacingAndGlyphs" stroke="#fff" stroke-width="0.25" >0.67508</text>
<rect x="1422" y="545" width="41" height="11" fill="#0000ff" shape-rendering="crispEdges"/>
<rect x="4" y="548" width="7" height="7" fill="#0000ff" shape-rendering="crispEdges"/>
<rect x="7" y="551" width="1" height="1" fill="#fff" shape-rendering="crispEdges"/>
<rect x="1414" y="548" width="7" height="7" fill="#0000ff" shape-rendering="crispEdges"/>
<rect x="1417" y="551" width="1" height="1" fill="#fff" shape-rendering="crispEdges"/>
<text x="1426" y="554" font-size="10" font-weight="normal" fill="#fff" text-anchor="start" textLength="32.5" lengthAdjust="spacingAndGlyphs" stroke="#fff" stroke-width="0.25" >0.66746</text>
<rect x="1422" y="376" width="41" height="11" fill="#000" shape-rendering="crispEdges"/>
<text x="1426" y="385" font-size="10" font-weight="normal" fill="#fff" text-anchor="start" textLength="32.5" lengthAdjust="spacingAndGlyphs" stroke="#fff" stroke-width="0.25" >0.68540</text>
<text x="1423" y="575" font-size="10" font-weight="normal" fill="#000" text-anchor="start" textLength="40" lengthAdjust="spacingAndGlyphs" stroke="#000" stroke-width="0.25" >0.002574</text>
<text x="1424.5" y="599" font-size="10" font-weight="normal" fill="#000" text-anchor="start" textLength="17.5" lengthAdjust="spacingAndGlyphs" stroke="#000" stroke-width="0.25" >0.00</text>
<text x="1423" y="664" font-size="10" font-weight="normal" fill="#000" text-anchor="start" textLength="42" lengthAdjust="spacingAndGlyphs" stroke="#000" stroke-width="0.25" >-0.006326</text>
<g shape-rendering="crispEdges">
<rect x="1421" y="566" width="2" height="1" fill="#000"/>
<rect x="1421" y="595" width="2" height="1" fill="#000"/>
<rect x="1421" y="666" width="2" height="1" fill="#000"/>
<rect x="1421" y="671" width="2" height="1" fill="#000"/>
<rect x="1421" y="798" width="2" height="1" fill="#000"/>
</g>
<text x="1424.5" y="680" font-size="10" font-weight="normal" fill="#000" text-anchor="start" textLength="14" lengthAdjust="spacingAndGlyphs" stroke="#000" stroke-width="0.25" >100</text>
<text x="1422.8" y="713" font-size="10" font-weight="normal" fill="#000" text-anchor="start" textLength="10" lengthAdjust="spacingAndGlyphs" stroke="#000" stroke-width="0.25" >70</text>
<text x="1422.8" y="764" font-size="10" font-weight="normal" fill="#000" text-anchor="start" textLength="10" lengthAdjust="spacingAndGlyphs" stroke="#000" stroke-width="0.25" >30</text>
<text x="1424" y="796" font-size="10" font-weight="normal" fill="#000" text-anchor="start" textLength="5" lengthAdjust="spacingAndGlyphs" stroke="#000" stroke-width="0.25" >0</text>
<text x="9" y="577" font-size="10" font-weight="normal" fill="#000" text-anchor="start" textLength="151" lengthAdjust="spacingAndGlyphs" stroke="#000" stroke-width="0.25" >MACD(12,26,9) 0.000818 -0.001498</text>
<text x="9" y="682" font-size="10" font-weight="normal" fill="#000" text-anchor="start" textLength="68" lengthAdjust="spacingAndGlyphs" stroke="#000" stroke-width="0.25" >RSI(14) 60.4481</text>
<g shape-rendering="crispEdges">
<rect x="5" y="800" width="1" height="3" fill="#000"/>
<rect x="69" y="800" width="1" height="3" fill="#000"/>
<rect x="133" y="800" width="1" height="3" fill="#000"/>
<rect x="197" y="800" width="1" height="3" fill="#000"/>
<rect x="261" y="800" width="1" height="3" fill="#000"/>
<rect x="325" y="800" width="1" height="3" fill="#000"/>
<rect x="389" y="800" width="1" height="3" fill="#000"/>
<rect x="453" y="800" width="1" height="3" fill="#000"/>
<rect x="517" y="800" width="1" height="3" fill="#000"/>
<rect x="581" y="800" width="1" height="3" fill="#000"/>
<rect x="645" y="800" width="1" height="3" fill="#000"/>
<rect x="709" y="800" width="1" height="3" fill="#000"/>
<rect x="773" y="800" width="1" height="3" fill="#000"/>
<rect x="837" y="800" width="1" height="3" fill="#000"/>
<rect x="901" y="800" width="1" height="3" fill="#000"/>
<rect x="965" y="800" width="1" height="3" fill="#000"/>
<rect x="1029" y="800" width="1" height="3" fill="#000"/>
<rect x="1093" y="800" width="1" height="3" fill="#000"/>
</g>
<text x="4.5" y="812" font-size="9.4" font-weight="normal" fill="#000" text-anchor="start" textLength="51.0" lengthAdjust="spacingAndGlyphs" stroke="#000" stroke-width="0.4" >31 Mar 2019</text>
<text x="68.5" y="812" font-size="9.4" font-weight="normal" fill="#000" text-anchor="start" textLength="45.5" lengthAdjust="spacingAndGlyphs" stroke="#000" stroke-width="0.4" >9 Apr 2019</text>
<text x="132.5" y="812" font-size="9.4" font-weight="normal" fill="#000" text-anchor="start" textLength="50.5" lengthAdjust="spacingAndGlyphs" stroke="#000" stroke-width="0.4" >18 Apr 2019</text>
<text x="196.5" y="812" font-size="9.4" font-weight="normal" fill="#000" text-anchor="start" textLength="50.5" lengthAdjust="spacingAndGlyphs" stroke="#000" stroke-width="0.4" >29 Apr 2019</text>
<text x="260.5" y="812" font-size="9.4" font-weight="normal" fill="#000" text-anchor="start" textLength="47.5" lengthAdjust="spacingAndGlyphs" stroke="#000" stroke-width="0.4" >8 May 2019</text>
<text x="324.5" y="812" font-size="9.4" font-weight="normal" fill="#000" text-anchor="start" textLength="52.5" lengthAdjust="spacingAndGlyphs" stroke="#000" stroke-width="0.4" >17 May 2019</text>
<text x="388.5" y="812" font-size="9.4" font-weight="normal" fill="#000" text-anchor="start" textLength="52.5" lengthAdjust="spacingAndGlyphs" stroke="#000" stroke-width="0.4" >27 May 2019</text>
<text x="452.5" y="812" font-size="9.4" font-weight="normal" fill="#000" text-anchor="start" textLength="46.0" lengthAdjust="spacingAndGlyphs" stroke="#000" stroke-width="0.4" >5 Jun 2019</text>
<text x="516.5" y="812" font-size="9.4" font-weight="normal" fill="#000" text-anchor="start" textLength="51.0" lengthAdjust="spacingAndGlyphs" stroke="#000" stroke-width="0.4" >14 Jun 2019</text>
<text x="580.5" y="812" font-size="9.4" font-weight="normal" fill="#000" text-anchor="start" textLength="51.0" lengthAdjust="spacingAndGlyphs" stroke="#000" stroke-width="0.4" >24 Jun 2019</text>
<text x="644.5" y="812" font-size="9.4" font-weight="normal" fill="#000" text-anchor="start" textLength="43.0" lengthAdjust="spacingAndGlyphs" stroke="#000" stroke-width="0.4" >3 Jul 2019</text>
<text x="708.5" y="812" font-size="9.4" font-weight="normal" fill="#000" text-anchor="start" textLength="48.0" lengthAdjust="spacingAndGlyphs" stroke="#000" stroke-width="0.4" >12 Jul 2019</text>
<text x="772.5" y="812" font-size="9.4" font-weight="normal" fill="#000" text-anchor="start" textLength="48.0" lengthAdjust="spacingAndGlyphs" stroke="#000" stroke-width="0.4" >22 Jul 2019</text>
<text x="836.5" y="812" font-size="9.4" font-weight="normal" fill="#000" text-anchor="start" textLength="48.0" lengthAdjust="spacingAndGlyphs" stroke="#000" stroke-width="0.4" >31 Jul 2019</text>
<text x="900.5" y="812" font-size="9.4" font-weight="normal" fill="#000" text-anchor="start" textLength="47.5" lengthAdjust="spacingAndGlyphs" stroke="#000" stroke-width="0.4" >9 Aug 2019</text>
<text x="964.5" y="812" font-size="9.4" font-weight="normal" fill="#000" text-anchor="start" textLength="52.5" lengthAdjust="spacingAndGlyphs" stroke="#000" stroke-width="0.4" >19 Aug 2019</text>
<text x="1028.5" y="812" font-size="9.4" font-weight="normal" fill="#000" text-anchor="start" textLength="52.5" lengthAdjust="spacingAndGlyphs" stroke="#000" stroke-width="0.4" >28 Aug 2019</text>
<text x="1092.5" y="812" font-size="9.4" font-weight="normal" fill="#000" text-anchor="start" textLength="46.5" lengthAdjust="spacingAndGlyphs" stroke="#000" stroke-width="0.4" >6 Sep 2019</text>
<g shape-rendering="crispEdges">
<rect x="0" y="820" width="1464" height="1" fill="#e3e3e3"/>
<rect x="0" y="822" width="1464" height="1" fill="#000"/>
<rect x="0" y="823" width="1464" height="19" fill="#f0f0f0"/>
<rect x="0" y="843" width="1464" height="1" fill="#ffffff"/>
<rect x="0" y="844" width="1464" height="2" fill="#f0f0f0"/>
<rect x="0" y="846" width="1464" height="2" fill="#a9a9a9"/>
<rect x="114" y="822" width="108" height="19" fill="#000"/>
<rect x="115" y="822" width="106" height="18" fill="#fff"/>
<rect x="331" y="826" width="1" height="13" fill="#7a7a7a"/>
<rect x="438" y="826" width="1" height="13" fill="#7a7a7a"/>
<rect x="550" y="826" width="1" height="13" fill="#7a7a7a"/>
<rect x="670" y="826" width="1" height="13" fill="#7a7a7a"/>
<rect x="795" y="826" width="1" height="13" fill="#7a7a7a"/>
<rect x="891" y="826" width="1" height="13" fill="#7a7a7a"/>
<rect x="970" y="826" width="1" height="13" fill="#7a7a7a"/>
<rect x="1075" y="826" width="1" height="13" fill="#7a7a7a"/>
<rect x="1194" y="826" width="1" height="13" fill="#7a7a7a"/>
<rect x="0" y="823" width="1" height="25" fill="#a0a0a0"/>
<rect x="1" y="823" width="1" height="25" fill="#6d6d6d"/>
<rect x="2" y="823" width="112" height="1" fill="#ffffff"/>
<rect x="0" y="821" width="1464" height="1" fill="#ffffff"/>
</g>
<text x="17.5" y="837" font-size="12" font-weight="normal" fill="#6e6e6e" text-anchor="start" textLength="84" lengthAdjust="spacingAndGlyphs" >EURUSD-,Daily</text>
<text x="234" y="837" font-size="12" font-weight="normal" fill="#6e6e6e" text-anchor="start" textLength="84" lengthAdjust="spacingAndGlyphs" >USDCHF-,Daily</text>
<text x="341" y="837" font-size="12" font-weight="normal" fill="#6e6e6e" text-anchor="start" textLength="86" lengthAdjust="spacingAndGlyphs" >USDCAD-,Daily</text>
<text x="450.3" y="837" font-size="12" font-weight="normal" fill="#6e6e6e" text-anchor="start" textLength="87.7" lengthAdjust="spacingAndGlyphs" >USDCNH-,Daily</text>
<text x="561" y="837" font-size="12" font-weight="normal" fill="#6e6e6e" text-anchor="start" textLength="96.6" lengthAdjust="spacingAndGlyphs" >EURCHF-,Weekly</text>
<text x="681.8" y="837" font-size="12" font-weight="normal" fill="#6e6e6e" text-anchor="start" textLength="100" lengthAdjust="spacingAndGlyphs" >XAUUSD-,Weekly</text>
<text x="805.4" y="837" font-size="12" font-weight="normal" fill="#6e6e6e" text-anchor="start" textLength="72.6" lengthAdjust="spacingAndGlyphs" >GBPUSD-,H1</text>
<text x="901" y="837" font-size="12" font-weight="normal" fill="#6e6e6e" text-anchor="start" textLength="56.6" lengthAdjust="spacingAndGlyphs" >UKOil-,H1</text>
<text x="980.2" y="837" font-size="12" font-weight="normal" fill="#6e6e6e" text-anchor="start" textLength="82.6" lengthAdjust="spacingAndGlyphs" >USDX-,Weekly</text>
<text x="1085.4" y="837" font-size="12" font-weight="normal" fill="#6e6e6e" text-anchor="start" textLength="96.8" lengthAdjust="spacingAndGlyphs" >EURCHF-,Weekly</text>
<text x="124.4" y="837" font-size="12" font-weight="normal" fill="#000" text-anchor="start" textLength="86.5" lengthAdjust="spacingAndGlyphs" >AUDUSD-,Daily</text>
<polygon points="1439,828 1439,834 1436,831" fill="#a0a0a0"/>
<polygon points="1455,828 1455,834 1458,831" fill="#a0a0a0"/>
</svg>
</body></html>
